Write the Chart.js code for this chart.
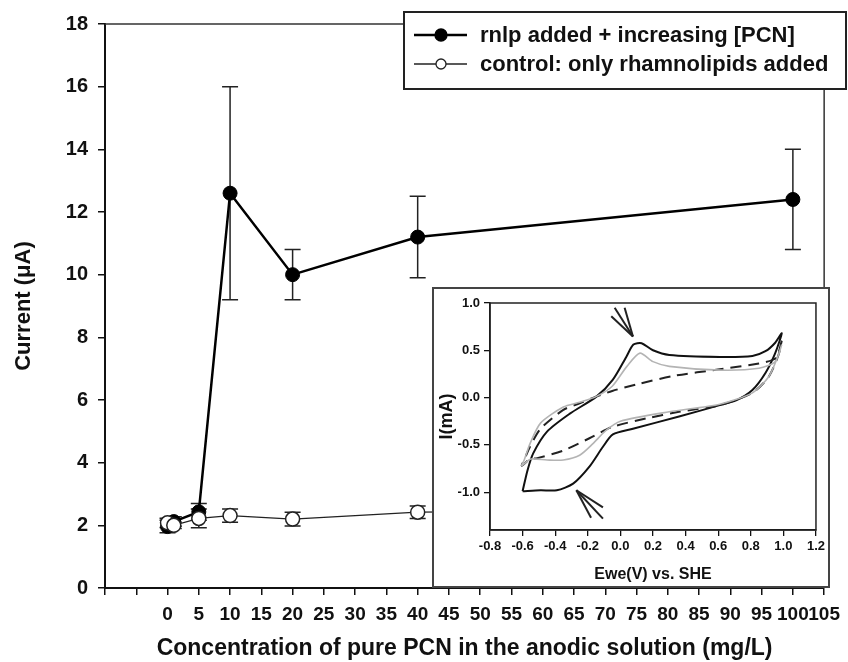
<!DOCTYPE html>
<html>
<head>
<meta charset="utf-8">
<script src="https://cdn.jsdelivr.net/npm/chart.js@4.4.1/dist/chart.umd.min.js"></script>
<style>
  html, body { margin: 0; padding: 0; background: #fff; }
  #wrap { position: relative; width: 848px; height: 662px; }
  #mainChart { display: block; }
  #inset { position: absolute; left: 432px; top: 287px; width: 394px; height: 297px; border: 2px solid #444; background: #fff; }
  #insetChart { display: block; }
</style>
</head>
<body>
<div id="wrap">
  <canvas id="mainChart" width="848" height="662"></canvas>
  <div id="inset"><canvas id="insetChart" width="394" height="297"></canvas></div>
</div>
<script>
// Main chart data (current in uA vs PCN concentration in mg/L)
const concentration = [0, 1, 5, 10, 20, 40, 100];
const rnlpCurrent = [1.96, 2.12, 2.43, 12.6, 10.0, 11.2, 12.4];
const rnlpError = [0.2, 0.15, 0.27, 3.4, 0.8, 1.3, 1.6];
const controlCurrent = [2.08, 2.0, 2.22, 2.31, 2.2, 2.42, 2.5];
const controlError = [0.15, 0.1, 0.3, 0.21, 0.22, 0.2, 0.2];

// Inset: cyclic voltammograms, I(mA) vs Ewe(V)
const cvBlackX = [-0.60, -0.49, -0.39, -0.29, -0.19, -0.107, -0.046, 0.077, 0.36, 0.61, 0.71, 0.81, 0.89, 0.95, 0.99,
                  0.95, 0.89, 0.81, 0.61, 0.30, 0.20, 0.13, 0.08, 0.036, -0.046, -0.147, -0.31, -0.45, -0.535, -0.57, -0.60];
const cvBlackY = [-0.99, -0.98, -0.98, -0.91, -0.73, -0.52, -0.39, -0.33, -0.20, -0.08, -0.03, 0.08, 0.26, 0.47, 0.68,
                  0.58, 0.49, 0.44, 0.43, 0.45, 0.50, 0.575, 0.56, 0.43, 0.19, 0.01, -0.17, -0.36, -0.59, -0.77, -0.99];
const cvGrayX = [0.99, 0.95, 0.85, 0.61, 0.30, 0.20, 0.12, 0.04, -0.05, -0.15, -0.25, -0.35, -0.49, -0.555, -0.59, -0.605,
                 -0.55, -0.45, -0.35, -0.25, -0.17, -0.09, 0.0, 0.30, 0.61, 0.81, 0.91, 0.97, 0.99];
const cvGrayY = [0.56, 0.38, 0.31, 0.29, 0.33, 0.38, 0.47, 0.33, 0.12, 0.01, -0.05, -0.10, -0.27, -0.49, -0.66, -0.72,
                 -0.65, -0.66, -0.66, -0.61, -0.49, -0.35, -0.25, -0.15, -0.07, 0.05, 0.22, 0.45, 0.56];
const cvDashX = [0.99, 0.955, 0.85, 0.61, 0.33, 0.10, -0.05, -0.15, -0.25, -0.35, -0.49, -0.555, -0.59, -0.605,
                 -0.555, -0.51, -0.35, -0.19, -0.05, 0.16, 0.36, 0.61, 0.81, 0.91, 0.97, 0.99];
const cvDashY = [0.60, 0.42, 0.36, 0.30, 0.23, 0.14, 0.07, 0.01, -0.06, -0.13, -0.33, -0.52, -0.66, -0.72,
                 -0.65, -0.64, -0.56, -0.43, -0.31, -0.22, -0.15, -0.08, 0.05, 0.22, 0.45, 0.60];
const insetXTicks = [-0.8, -0.6, -0.4, -0.2, 0.0, 0.2, 0.4, 0.6, 0.8, 1.0, 1.2];
const insetYTicks = [-1.0, -0.5, 0.0, 0.5, 1.0];
const peakArrows = [
    { tip: [0.077, 0.645], tails: [[-0.056, 0.86], [-0.035, 0.95], [0.026, 0.95]] },
    { tip: [-0.27, -0.98], tails: [[-0.107, -1.16], [-0.107, -1.28], [-0.18, -1.27]] }
];

const FONT = "'Liberation Sans', Arial, Helvetica, sans-serif";
const pts = (xs, ys) => xs.map((x, i) => ({ x: x, y: ys[i] }));

// Error bars drawn under the markers
const errorBars = {
    id: 'errorBars',
    beforeDatasetsDraw(chart) {
        const { ctx, scales: { x, y } } = chart;
        chart.data.datasets.forEach(ds => {
            if (!ds.errors) return;
            ctx.save();
            ctx.strokeStyle = '#222';
            ctx.lineWidth = 1.5;
            ds.data.forEach((p, i) => {
                const px = x.getPixelForValue(p.x);
                const top = y.getPixelForValue(p.y + ds.errors[i]);
                const bot = y.getPixelForValue(p.y - ds.errors[i]);
                ctx.beginPath();
                ctx.moveTo(px, top); ctx.lineTo(px, bot);
                ctx.moveTo(px - 8, top); ctx.lineTo(px + 8, top);
                ctx.moveTo(px - 8, bot); ctx.lineTo(px + 8, bot);
                ctx.stroke();
            });
            ctx.restore();
        });
    }
};

// Top/right frame plus the boxed legend in the upper right corner
const frameAndLegend = {
    id: 'frameAndLegend',
    afterDraw(chart) {
        const { ctx, chartArea: a } = chart;
        ctx.save();
        ctx.strokeStyle = '#333';
        ctx.lineWidth = 1.5;
        ctx.beginPath();
        ctx.moveTo(a.left, a.top);
        ctx.lineTo(a.right, a.top);
        ctx.lineTo(a.right, a.bottom);
        ctx.stroke();

        // legend box
        ctx.fillStyle = '#fff';
        ctx.fillRect(404, 12, 442, 77);
        ctx.strokeStyle = '#222';
        ctx.lineWidth = 2;
        ctx.strokeRect(404, 12, 442, 77);

        chart.data.datasets.forEach((ds, i) => {
            const y = 35 + 29 * i;
            ctx.strokeStyle = ds.borderColor;
            ctx.lineWidth = ds.borderWidth;
            ctx.beginPath();
            ctx.moveTo(414, y); ctx.lineTo(467, y);
            ctx.stroke();
            ctx.beginPath();
            ctx.arc(441, y, i === 0 ? 6 : 5, 0, Math.PI * 2);
            ctx.fillStyle = ds.pointBackgroundColor;
            ctx.fill();
            ctx.lineWidth = 1.3;
            ctx.strokeStyle = ds.pointBorderColor;
            ctx.stroke();
            ctx.fillStyle = '#111';
            ctx.font = 'bold 22px ' + FONT;
            ctx.textBaseline = 'middle';
            ctx.textAlign = 'left';
            ctx.fillText(ds.label, 480, y + 1);
        });
        ctx.restore();
    }
};

new Chart(document.getElementById('mainChart'), {
    type: 'scatter',
    data: {
        datasets: [{
            label: 'rnlp added + increasing [PCN]',
            data: pts(concentration, rnlpCurrent),
            errors: rnlpError,
            showLine: true,
            borderColor: '#000',
            borderWidth: 2.5,
            pointRadius: 7,
            pointBackgroundColor: '#000',
            pointBorderColor: '#000',
            pointBorderWidth: 1,
            order: 1
        }, {
            label: 'control: only rhamnolipids added',
            data: pts(concentration, controlCurrent),
            errors: controlError,
            showLine: true,
            borderColor: '#222',
            borderWidth: 1.3,
            pointRadius: 7,
            pointBackgroundColor: '#fff',
            pointBorderColor: '#222',
            pointBorderWidth: 1.5,
            order: 0
        }]
    },
    options: {
        responsive: false,
        animation: false,
        layout: { padding: { top: 24, right: 18, left: 0, bottom: 0 } },
        plugins: { legend: { display: false }, tooltip: { enabled: false } },
        scales: {
            x: {
                type: 'linear', min: -10, max: 105,
                ticks: {
                    stepSize: 5, autoSkip: false, maxRotation: 0, padding: 8,
                    callback: v => (v < 0 ? '' : v),
                    font: { family: FONT, size: 19, weight: 'bold' }, color: '#111'
                },
                grid: { drawOnChartArea: false, tickLength: 7, color: '#111', lineWidth: 1.5 },
                border: { color: '#111', width: 2 },
                title: {
                    display: true,
                    text: 'Concentration of pure PCN in the anodic solution (mg/L)',
                    font: { family: FONT, size: 23, weight: 'bold' }, color: '#111',
                    padding: { top: 0, bottom: 0 }
                },
                afterFit: s => { s.height = 74; }
            },
            y: {
                min: 0, max: 18,
                ticks: {
                    stepSize: 2, padding: 10,
                    font: { family: FONT, size: 20, weight: 'bold' }, color: '#111'
                },
                grid: { drawOnChartArea: false, tickLength: 7, color: '#111', lineWidth: 1.5 },
                border: { color: '#111', width: 2 },
                title: {
                    display: true, text: 'Current (μA)',
                    font: { family: FONT, size: 22, weight: 'bold' }, color: '#111',
                    padding: { top: 11, bottom: 0 }
                },
                afterFit: s => { s.width = 105; }
            }
        }
    },
    plugins: [errorBars, frameAndLegend]
});

// Inset frame and the two arrows pointing at the redox peaks
const insetDecor = {
    id: 'insetDecor',
    afterDraw(chart) {
        const { ctx, chartArea: a, scales: { x, y } } = chart;
        ctx.save();
        ctx.strokeStyle = '#222';
        ctx.lineWidth = 1.5;
        ctx.strokeRect(a.left, a.top, a.right - a.left, a.bottom - a.top);
        ctx.lineWidth = 2;
        peakArrows.forEach(ar => {
            const tx = x.getPixelForValue(ar.tip[0]);
            const ty = y.getPixelForValue(ar.tip[1]);
            ar.tails.forEach(t => {
                ctx.beginPath();
                ctx.moveTo(x.getPixelForValue(t[0]), y.getPixelForValue(t[1]));
                ctx.lineTo(tx, ty);
                ctx.stroke();
            });
        });
        ctx.restore();
    }
};

new Chart(document.getElementById('insetChart'), {
    type: 'scatter',
    data: {
        datasets: [{
            data: pts(cvGrayX, cvGrayY), showLine: true,
            borderColor: '#b4b4b4', borderWidth: 1.6, pointRadius: 0, tension: 0.25
        }, {
            data: pts(cvDashX, cvDashY), showLine: true,
            borderColor: '#222', borderWidth: 2, borderDash: [11, 7], pointRadius: 0, tension: 0.25
        }, {
            data: pts(cvBlackX, cvBlackY), showLine: true,
            borderColor: '#111', borderWidth: 2, pointRadius: 0, tension: 0.25
        }]
    },
    options: {
        responsive: false,
        animation: false,
        layout: { padding: { top: 14, right: 11, left: 0, bottom: 0 } },
        plugins: { legend: { display: false }, tooltip: { enabled: false } },
        scales: {
            x: {
                type: 'linear', min: -0.8, max: 1.2,
                afterBuildTicks: s => { s.ticks = insetXTicks.map(v => ({ value: v })); },
                ticks: {
                    autoSkip: false, maxRotation: 0, padding: 3,
                    callback: v => v.toFixed(1),
                    font: { family: FONT, size: 13, weight: 'bold' }, color: '#111'
                },
                grid: { drawOnChartArea: false, tickLength: 6, color: '#111', lineWidth: 1.3 },
                border: { color: '#111', width: 1.5 },
                title: {
                    display: true, text: 'Ewe(V) vs. SHE',
                    font: { family: FONT, size: 16, weight: 'bold' }, color: '#111',
                    padding: { top: 0, bottom: 2 }
                },
                afterFit: s => { s.height = 56; }
            },
            y: {
                min: -1.4, max: 1.0,
                afterBuildTicks: s => { s.ticks = insetYTicks.map(v => ({ value: v })); },
                ticks: {
                    padding: 4,
                    callback: v => v.toFixed(1),
                    font: { family: FONT, size: 13, weight: 'bold' }, color: '#111'
                },
                grid: { drawOnChartArea: false, tickLength: 6, color: '#111', lineWidth: 1.3 },
                border: { color: '#111', width: 1.5 },
                title: {
                    display: true, text: 'I(mA)',
                    font: { family: FONT, size: 18, weight: 'bold' }, color: '#111',
                    padding: { top: 2, bottom: 0 }
                },
                afterFit: s => { s.width = 56; }
            }
        }
    },
    plugins: [insetDecor]
});
</script>
</body>
</html>
